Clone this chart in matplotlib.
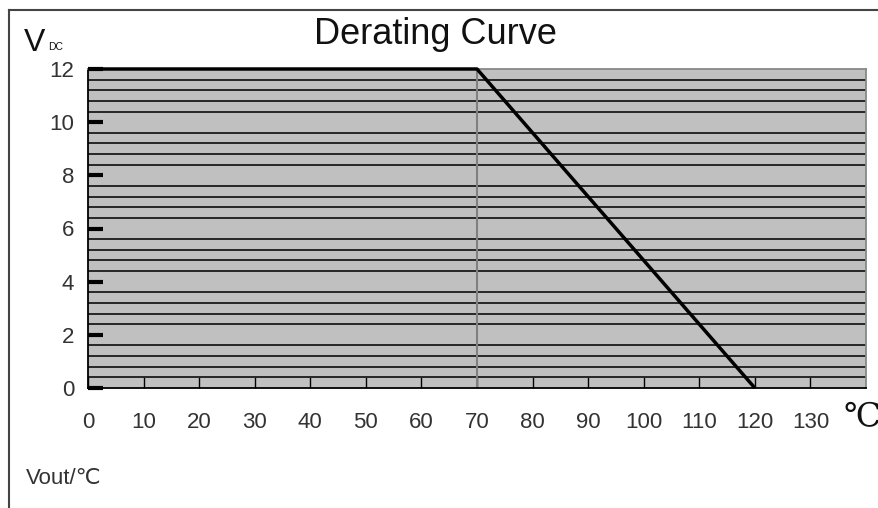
import numpy as np
import matplotlib.pyplot as plt
from matplotlib.lines import Line2D

temp = [0, 70, 120]
vout = [12, 12, 0]
x_ticks = [0, 10, 20, 30, 40, 50, 60, 70, 80, 90, 100, 110, 120, 130]
y_ticks = [0, 2, 4, 6, 8, 10, 12]

plt.rcParams['font.family'] = ['Liberation Sans', 'DejaVu Sans']

W, H = 879, 508
fig = plt.figure(figsize=(W / 100, H / 100), dpi=100)
fig.patch.set_facecolor('white')

# plot area in pixel units
L, R, T, B = 88, 866, 69, 388
ax = fig.add_axes([L / W, 1 - B / H, (R - L) / W, (B - T) / H])
ax.set_facecolor('#c0c0c0')
ax.set_xlim(0, 140)
ax.set_ylim(0, 12)

# horizontal grid lines every 0.4
ax.set_yticks(np.arange(0.4, 12, 0.4), minor=True)
ax.grid(True, which='minor', axis='y', color='#262626', linewidth=1.4)
ax.tick_params(axis='y', which='minor', length=0)

ax.set_yticks(y_ticks)
ax.set_yticklabels([str(v) for v in y_ticks], fontsize=16, color='#333333')
ax.tick_params(axis='y', which='major', direction='in', length=11, width=3,
               color='black', pad=10)

ax.set_xticks(x_ticks)
ax.set_xticklabels([str(v) for v in x_ticks], fontsize=16, color='#333333')
ax.tick_params(axis='x', direction='in', length=8, width=1, color='black', pad=17)

ax.axvline(70, color='#808080', linewidth=1.5)
ax.plot(temp, vout, color='black', linewidth=2.5, solid_capstyle='butt', zorder=5,
        clip_on=False)

ax.spines['left'].set_color('black')
ax.spines['bottom'].set_color('black')
ax.spines['right'].set_color('#888888')
ax.spines['top'].set_color('#888888')
for s in ax.spines.values():
    s.set_linewidth(1.3)

# outer frame
fig.add_artist(Line2D([9 / W, 1], [1 - 10 / H, 1 - 10 / H], color='#444444', linewidth=1.5))
fig.add_artist(Line2D([9 / W, 9 / W], [0, 1 - 10 / H], color='#444444', linewidth=1.5))

fig.text(435 / W, 1 - 35 / H, 'Derating Curve', fontsize=26, ha='center', va='center',
         color='#111111')
fig.text(24 / W, 1 - 43 / H, 'V', fontsize=23, ha='left', va='center', color='#111111')
fig.text(48 / W, 1 - 47 / H, 'DC', fontsize=7.5, ha='left', va='center', color='#111111')
fig.text(26 / W, 1 - 479 / H, 'Vout/℃', fontsize=16, ha='left', va='center', color='#333333')
fig.text(862 / W, 1 - 418 / H, '℃', fontsize=24, ha='center', va='center',
         family=['Liberation Serif', 'DejaVu Serif'], color='#111111')

fig.savefig('out.png', dpi=100)
